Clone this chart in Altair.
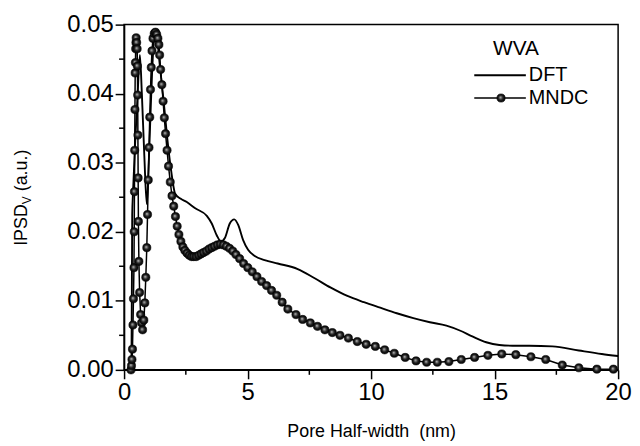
import altair as alt
import pandas as pd

# ---- data ----
dft_x = [0.26, 0.30, 0.33, 0.36, 0.45, 0.55, 0.64, 0.72, 0.82, 0.92,
         1.00, 1.08, 1.16, 1.24, 1.32, 1.45, 1.60, 1.75, 1.90, 2.07,
         2.28, 2.54, 2.88, 3.35, 3.55, 3.75, 3.92, 4.08, 4.28, 4.46,
         4.62, 4.82, 5.02, 5.29, 5.69, 6.22, 7.03, 7.70, 8.37, 9.04,
         9.71, 10.37, 11.04, 11.71, 12.38, 13.05, 13.59, 14.12, 14.66, 15.19,
         15.73, 16.40, 17.34, 18.41, 19.34, 20.0]
dft_y = [0.0, 0.0008, 0.0225, 0.0255, 0.0330, 0.0400, 0.0456, 0.0400, 0.0310, 0.0240,
         0.0300, 0.0380, 0.0450, 0.0485, 0.0482, 0.0440, 0.0390, 0.0335, 0.0290, 0.0255,
         0.0248, 0.0243, 0.0234, 0.0223, 0.0212, 0.0195, 0.0186, 0.0191, 0.0212, 0.0218,
         0.0210, 0.0188, 0.0174, 0.0165, 0.0159, 0.0154, 0.0146, 0.0133, 0.0119, 0.0107,
         0.0098, 0.0090, 0.0082, 0.0075, 0.0069, 0.0064, 0.0057, 0.0048, 0.0040, 0.0036,
         0.0035, 0.0035, 0.0034, 0.0028, 0.0023, 0.0020]

mndc_x = [0.28, 0.30, 0.32, 0.34, 0.36, 0.38, 0.40, 0.41, 0.42, 0.43, 0.44, 0.45, 0.46, 0.47, 0.48, 0.49,
          0.51, 0.53, 0.54, 0.55, 0.56, 0.57, 0.58, 0.60, 0.63, 0.67, 0.71, 0.75,
          0.80, 0.84, 0.88, 0.92, 0.95, 0.98, 1.01, 1.04, 1.07, 1.10, 1.13, 1.17, 1.22, 1.27,
          1.32, 1.37, 1.41, 1.44, 1.48, 1.53, 1.58, 1.63, 1.68, 1.74, 1.80, 1.87, 1.94, 2.01,
          2.08, 2.15, 2.22, 2.30, 2.38, 2.46, 2.55, 2.64, 2.73, 2.82, 2.92, 3.02, 3.12, 3.22,
          3.33, 3.44, 3.55, 3.66, 3.78, 3.90, 4.02, 4.14, 4.27, 4.40, 4.53, 4.68, 4.84, 5.01,
          5.19, 5.38, 5.57, 5.77, 5.97, 6.18, 6.40, 6.63, 6.96, 7.23, 7.54, 7.83, 8.13, 8.43,
          8.74, 9.08, 9.44, 9.80, 10.17, 10.55, 10.94, 11.38, 11.82, 12.25, 12.68, 13.15, 13.65,
          14.19, 14.73, 15.29, 15.86, 16.47, 17.07, 17.74, 18.41, 19.14, 19.81]
mndc_y = [0.0000, 0.0006, 0.0015, 0.0030, 0.0065, 0.0103, 0.0148, 0.0200, 0.0258, 0.0318, 0.0377, 0.0430, 0.0445, 0.0465, 0.0474, 0.0481,
          0.0474, 0.0465, 0.0440, 0.0398, 0.0340, 0.0278, 0.0215, 0.0157, 0.0112, 0.0080, 0.0068, 0.0058,
          0.0072, 0.0097, 0.0134, 0.0177, 0.0225, 0.0275, 0.0322, 0.0366, 0.0406, 0.0438, 0.0462, 0.0480, 0.0487, 0.0489,
          0.0486, 0.0480, 0.0471, 0.0456, 0.0435, 0.0413, 0.0389, 0.0365, 0.0342, 0.0318, 0.0295, 0.0272, 0.0252, 0.0237,
          0.0222, 0.0208, 0.0196, 0.0186, 0.0178, 0.0173, 0.0169, 0.0166, 0.0164, 0.0164, 0.0164, 0.0166, 0.0168, 0.0170,
          0.0172, 0.0175, 0.0177, 0.0179, 0.0181, 0.0182, 0.0181, 0.0179, 0.0176, 0.0172, 0.0167, 0.0161, 0.0154, 0.0148,
          0.0142, 0.0135, 0.0128, 0.0122, 0.0115, 0.0108, 0.0098, 0.0088, 0.0080, 0.0073, 0.0068, 0.0063, 0.0058, 0.0054,
          0.0050, 0.0046, 0.0041, 0.0037, 0.0034, 0.0029, 0.0024, 0.0018, 0.0013, 0.0011, 0.0011, 0.0012, 0.0015,
          0.0018, 0.0021, 0.0023, 0.0022, 0.0019, 0.0015, 0.0007, 0.0003, 0.0001, 0.0001]

x_ticks = [0, 5, 10, 15, 20]
x_minor = [2.5, 7.5, 12.5, 17.5]
y_ticks = [0.0, 0.01, 0.02, 0.03, 0.04, 0.05]
y_minor = [0.005, 0.015, 0.025, 0.035, 0.045]

legend_title = "WVA"
series_names = ["DFT", "MNDC"]
x_title = "Pore Half-width \u00a0(nm)"
y_title_main, y_title_sub, y_title_unit = "IPSD", "V", "(a.u.)"

FONT = "Liberation Sans"
W, H = 498, 348

dft = pd.DataFrame({"x": dft_x, "y": dft_y})
mndc = pd.DataFrame({"x": mndc_x, "y": mndc_y})
xminor_df = pd.DataFrame({"x": x_minor})
yminor_df = pd.DataFrame({"y": y_minor})
one = pd.DataFrame({"k": [0]})

xs = alt.Scale(domain=[0, 20], nice=False, zero=False)
ys = alt.Scale(domain=[0, 0.05], nice=False, zero=False)

x_axis = alt.Axis(values=x_ticks, format="d", title=x_title, titleY=53, labelFlush=False)
y_axis = alt.Axis(values=y_ticks, format=".2f", title=None, labelFlush=False)

X = alt.X("x:Q", scale=xs, axis=x_axis)
Y = alt.Y("y:Q", scale=ys, axis=y_axis)

ball = alt.RadialGradient(
    gradient="radial",
    stops=[alt.GradientStop(offset=0, color="#dcdcdc"),
           alt.GradientStop(offset=0.22, color="#6e6e6e"),
           alt.GradientStop(offset=0.55, color="#1c1c1c"),
           alt.GradientStop(offset=1, color="#000000")],
    x1=0.42, y1=0.42, r1=0, x2=0.5, y2=0.5, r2=0.55,
)

dft_line = alt.Chart(dft).mark_line(color="black", strokeWidth=1.9, interpolate="monotone").encode(x=X, y=Y)
mndc_line = alt.Chart(mndc).mark_line(color="black", strokeWidth=1.5).encode(x=X, y=Y)
mndc_pts = alt.Chart(mndc).mark_point(filled=True, fill=ball, stroke="black", strokeWidth=0.6,
                                      size=68, opacity=1, shape="circle").encode(x=X, y=Y)

xminor = alt.Chart(xminor_df).mark_rule(color="black", strokeWidth=1.5).encode(
    x=X, y=alt.value(H), y2=alt.value(H + 5))
yminor = alt.Chart(yminor_df).mark_rule(color="black", strokeWidth=1.5).encode(
    y=Y, x=alt.value(0), x2=alt.value(-5))

# y title with subscript
yt1 = alt.Chart(one).mark_text(text=y_title_main, angle=270, align="left", baseline="middle",
                               fontSize=18, font=FONT, color="black").encode(x=alt.value(-103), y=alt.value(223))
yt2 = alt.Chart(one).mark_text(text=y_title_sub, angle=270, align="left", baseline="middle",
                               fontSize=12, font=FONT, color="black").encode(x=alt.value(-98), y=alt.value(181))
yt3 = alt.Chart(one).mark_text(text=y_title_unit, angle=270, align="left", baseline="middle",
                               fontSize=18, font=FONT, color="black").encode(x=alt.value(-103), y=alt.value(168))

# legend
lg_title = alt.Chart(one).mark_text(text=legend_title, align="left", baseline="middle",
                                    fontSize=21, font=FONT, color="black").encode(x=alt.value(372), y=alt.value(25))
lg_dft_line = alt.Chart(one).mark_rule(color="black", strokeWidth=1.9).encode(
    x=alt.value(353), x2=alt.value(405), y=alt.value(51))
lg_dft_txt = alt.Chart(one).mark_text(text=series_names[0], align="left", baseline="middle",
                                      fontSize=20, font=FONT, color="black").encode(x=alt.value(408), y=alt.value(51))
lg_mn_line = alt.Chart(one).mark_rule(color="black", strokeWidth=1.5).encode(
    x=alt.value(353), x2=alt.value(405), y=alt.value(74))
lg_mn_pt = alt.Chart(one).mark_point(filled=True, fill=ball, stroke="black", strokeWidth=0.6,
                                     size=68, opacity=1, shape="circle").encode(x=alt.value(380), y=alt.value(74))
lg_mn_txt = alt.Chart(one).mark_text(text=series_names[1], align="left", baseline="middle",
                                     fontSize=20, font=FONT, color="black").encode(x=alt.value(408), y=alt.value(74))

chart = alt.layer(
    dft_line, mndc_line, mndc_pts, xminor, yminor,
    yt1, yt2, yt3,
    lg_title, lg_dft_line, lg_dft_txt, lg_mn_line, lg_mn_pt, lg_mn_txt,
).properties(
    width=W, height=H,
    autosize=alt.AutoSizeParams(type="none"),
    padding={"left": 117, "top": 15, "right": 14, "bottom": 74},
    background="white",
).configure_view(
    stroke="black", strokeWidth=1.5,
).configure_axis(
    grid=False,
    domainColor="black", domainWidth=1.5,
    tickColor="black", tickWidth=1.5, tickSize=9,
    labelFont=FONT, labelFontSize=24, labelColor="black", labelPadding=2,
    titleFont=FONT, titleFontSize=18, titleFontWeight="normal", titleColor="black",
)

chart.save("out.html", embed_options={"renderer": "svg", "actions": False})
